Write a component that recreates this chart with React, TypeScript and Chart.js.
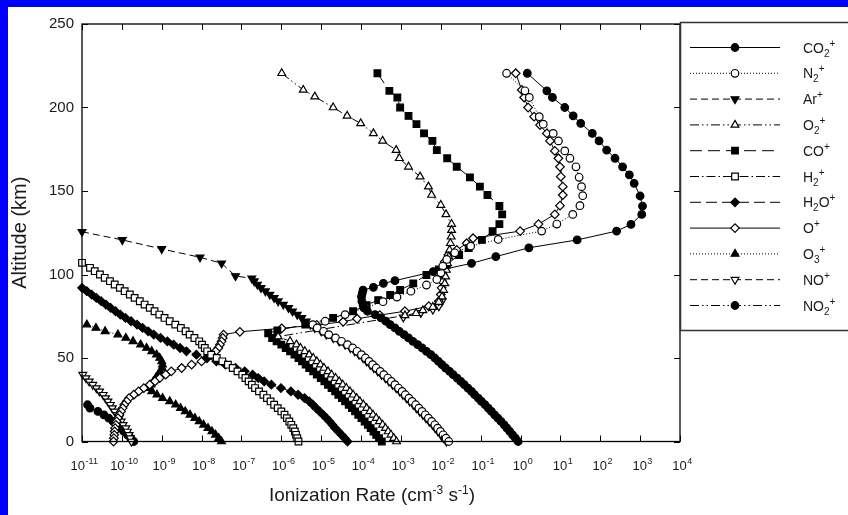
import React, { useEffect, useRef } from "react";
import { Chart, registerables } from "chart.js";
import { drawPoint } from "chart.js/helpers";

Chart.register(...registerables);

const FONT = "'Liberation Sans', Arial, Helvetica, sans-serif";

// Each point: [altitude (km), log10 of ionization rate (cm^-3 s^-1)]; null = gap
type Pt = [number, number] | null;

const X_TICK_EXPONENTS = [-11, -10, -9, -8, -7, -6, -5, -4, -3, -2, -1, 0, 1, 2, 3, 4];
const Y_TICKS = [0, 50, 100, 150, 200, 250];
const X_TITLE: [string, boolean][] = [["Ionization Rate (cm", false], ["-3", true], [" s", false], ["-1", true], [")", false]];
const Y_TITLE = "Altitude (km)";
const LABELS = ["CO₂⁺", "N₂⁺", "Ar⁺", "O₂⁺", "CO⁺", "H₂⁺", "H₂O⁺", "O⁺", "O₃⁺", "NO⁺", "NO₂⁺"];

const CO2_PLUS: Pt[] = [
  [220.5, 0.17], [210, 0.66], [206, 0.8], [200, 1.11], [195, 1.32], [190.5, 1.51], [184.5, 1.8], [180, 1.97],
  [174.5, 2.16], [169.6, 2.37], [164.5, 2.56], [159.6, 2.73], [154.6, 2.85], [147, 3.0], [141, 3.06], [136, 3.04],
  [130, 2.77], [126, 2.41], [120.7, 1.42], [116, 0.21], [110.7, -0.62], [106.7, -1.23], [101.7, -2.19], [96.3, -3.15],
  [94.7, -3.44], [92.3, -3.69], [90.7, -3.95], [88.7, -3.97], [86.7, -3.99], [84, -3.98], [81.7, -3.95], [80, -3.93],
  [78, -3.84], [76, -3.65], [74, -3.5], [72, -3.38], [70, -3.27], [68, -3.15], [66, -3.04], [64, -2.92], [62, -2.81],
  [60, -2.7], [58, -2.58], [56, -2.47], [54, -2.36], [52, -2.25], [50, -2.15], [48, -2.06], [46, -1.97], [44, -1.88],
  [42, -1.78], [40, -1.69], [38, -1.59], [36, -1.5], [34, -1.41], [32, -1.32], [30, -1.23], [28, -1.15], [26, -1.06],
  [24, -0.98], [22, -0.89], [20, -0.81], [18, -0.73], [16, -0.65], [14, -0.57], [12, -0.49], [10, -0.41], [8, -0.34],
  [6, -0.27], [4, -0.2], [2, -0.13], [0, -0.06],
];

const N2_PLUS: Pt[] = [
  [220.5, -0.35], [210, 0.11], [206, 0.22], [194.5, 0.47], [190, 0.57], [184.5, 0.82], [180, 0.95], [174, 1.11],
  [169.6, 1.24], [164.5, 1.39], [158.2, 1.47], [152.6, 1.53], [147.2, 1.56], [141.2, 1.49], [136, 1.31], [130.2, 0.91],
  [126, 0.53], [121, -0.56], [117, -1.25], [113, -1.65], [109, -1.85], [105, -1.95], [101, -2.0], [97, -2.1],
  [93.7, -2.36], [90, -2.75], [86.5, -3.1], [83.7, -3.45], [80, -3.9], [76, -4.4], [72, -4.9],
  [70, -5.21], [68, -5.1], [66, -4.94], [64, -4.81], [62, -4.64], [60, -4.49], [58, -4.34], [56, -4.21], [54, -4.1],
  [52, -3.99], [50, -3.89], [48, -3.8], [46, -3.71], [44, -3.62], [42, -3.52], [40, -3.43], [38, -3.33], [36, -3.24],
  [34, -3.15], [32, -3.06], [30, -2.97], [28, -2.89], [26, -2.8], [24, -2.72], [22, -2.63], [20, -2.55], [18, -2.47],
  [16, -2.39], [14, -2.31], [12, -2.23], [10, -2.15], [8, -2.08], [6, -2.01], [4, -1.94], [2, -1.87], [0, -1.8],
];

const AR_PLUS: Pt[] = [
  [125.6, -11.0], [120.7, -9.99], [115.3, -9.0], [110.3, -8.04], [106.7, -7.5], [99.1, -7.15], [97.7, -6.74],
  [96, -6.68], [94, -6.6], [92, -6.51], [90, -6.4], [88, -6.29], [86, -6.18], [84, -6.08], [82, -5.95], [80, -5.82],
  [78, -5.72], [76, -5.6], [74, -5.49], [72, -5.38], [70, -5.27], [68, -5.16], [66, -5.0], [64, -4.87], [62, -4.7],
  [60, -4.55], [58, -4.4], [56, -4.27], [54, -4.16], [52, -4.05], [50, -3.95], [48, -3.86], [46, -3.77], [44, -3.68],
  [42, -3.58], [40, -3.49], [38, -3.39], [36, -3.3], [34, -3.21], [32, -3.12], [30, -3.03], [28, -2.95], [26, -2.86],
  [24, -2.78], [22, -2.69], [20, -2.61], [18, -2.53], [16, -2.45], [14, -2.37], [12, -2.29], [10, -2.21], [8, -2.14],
  [6, -2.07], [4, -2.0], [2, -1.93], [0, -1.86],
];

const O2_PLUS: Pt[] = [
  [220.5, -5.99], [210.5, -5.45], [206.5, -5.16], [200, -4.7], [195, -4.35], [190.5, -4.01], [184.5, -3.69], [180, -3.46],
  [174.5, -3.12], [169.6, -3.04], [164.5, -2.81], [158.6, -2.52], [152.6, -2.31], [147.6, -2.23], [141.6, -2.0],
  [136, -1.87], [130.2, -1.73], [126.6, -1.73], [122.6, -1.74], [118.7, -1.76], [114.7, -1.78], [110.7, -1.8],
  [106.7, -1.83], [102.7, -1.86], [98.7, -1.88], [94.7, -1.9], [90.7, -1.93], [86.7, -1.97], [83.5, -2.05],
  [80.5, -2.2], [78.5, -2.45], [76.8, -2.62], [75.5, -2.9],
  [62.8, -6.08], [60, -5.78], [58, -5.62], [56, -5.52], [54, -5.41], [52, -5.3], [50, -5.2], [48, -5.11], [46, -5.02],
  [44, -4.93], [42, -4.83], [40, -4.74], [38, -4.64], [36, -4.55], [34, -4.46], [32, -4.37], [30, -4.28], [28, -4.2],
  [26, -4.11], [24, -4.03], [22, -3.94], [20, -3.86], [18, -3.78], [16, -3.7], [14, -3.62], [12, -3.54], [10, -3.46],
  [8, -3.39], [6, -3.32], [4, -3.25], [2, -3.18], [0, -3.11],
];

const CO_PLUS: Pt[] = [
  [220.5, -3.59], [210, -3.29], [206, -3.09], [200, -3.02], [195, -2.81], [190, -2.61], [184.5, -2.42], [180, -2.21],
  [174.5, -2.1], [169.6, -1.84], [164.5, -1.6], [158.2, -1.27], [152.6, -1.02], [147.6, -0.83], [141, -0.53],
  [136, -0.46], [130.2, -0.53], [126, -0.7], [120.7, -0.97], [115.8, -1.3], [111.7, -1.54], [106, -1.85], [103, -2.05],
  [99.7, -2.36], [94.7, -2.69], [90.7, -3.02], [87.7, -3.27], [84.7, -3.57], [81.7, -3.86], [78, -4.2], [74, -4.7],
  [70, -5.4], [66.5, -6.1], [64.8, -6.33],
  [62, -6.23], [60, -6.12], [58, -6.0], [56, -5.89], [54, -5.78], [52, -5.67], [50, -5.57], [48, -5.48], [46, -5.39],
  [44, -5.3], [42, -5.2], [40, -5.11], [38, -5.01], [36, -4.92], [34, -4.83], [32, -4.74], [30, -4.65], [28, -4.57],
  [26, -4.48], [24, -4.4], [22, -4.31], [20, -4.23], [18, -4.15], [16, -4.07], [14, -3.99], [12, -3.91], [10, -3.83],
  [8, -3.76], [6, -3.69], [4, -3.62], [2, -3.55], [0, -3.48],
];

const H2_PLUS: Pt[] = [
  [107, -11.0], [104, -10.8], [102, -10.68], [100, -10.55], [98, -10.43], [96, -10.3], [94, -10.18], [92, -10.05],
  [90, -9.93], [88, -9.8], [86, -9.68], [84, -9.55], [82, -9.43], [80, -9.3], [78, -9.18], [76, -9.06], [74, -8.93],
  [72, -8.8], [70, -8.66], [68, -8.52], [66, -8.4], [64, -8.3], [62, -8.18], [60, -8.06], [58, -7.99], [56, -7.92],
  [54, -7.86], [52, -7.76], [50, -7.62], [48, -7.48], [46, -7.34], [44, -7.22], [42, -7.1], [40, -6.98], [38, -6.9],
  [36, -6.82], [34, -6.74], [32, -6.66], [30, -6.56], [28, -6.45], [26, -6.36], [24, -6.27], [22, -6.18], [20, -6.09],
  [18, -6.0], [16, -5.92], [14, -5.86], [12, -5.8], [10, -5.75], [8, -5.7], [6, -5.66], [4, -5.63], [2, -5.6], [0, -5.57],
];

const H2O_PLUS: Pt[] = [
  [92, -11.0], [90, -10.88], [88, -10.76], [86, -10.64], [84, -10.52], [82, -10.4], [80, -10.28], [78, -10.16],
  [76, -10.04], [74, -9.91], [72, -9.77], [70, -9.62], [68, -9.48], [66, -9.34], [64, -9.2], [62, -9.03], [60, -8.86],
  [58, -8.7], [56, -8.54], [54, -8.38], [52, -8.13], [50, -7.88], [48, -7.63], [46, -7.4], [44, -7.15], [42, -6.92],
  [40, -6.72], [38, -6.58], [36, -6.43], [34, -6.25], [32, -6.01], [30, -5.76], [28, -5.58], [26, -5.42], [24, -5.3],
  [22, -5.21], [20, -5.13], [18, -5.04], [16, -4.95], [14, -4.87], [12, -4.79], [10, -4.72], [8, -4.65], [6, -4.57],
  [4, -4.49], [2, -4.41], [0, -4.34],
];

const O_PLUS: Pt[] = [
  [220.5, -0.12], [210.5, 0.03], [206, 0.09], [200, 0.19], [194.5, 0.34], [189.5, 0.49], [184.5, 0.66], [180, 0.74],
  [174, 0.86], [169.6, 0.95], [164.5, 0.99], [158.6, 1.01], [152.6, 1.06], [147.6, 1.06], [141.2, 0.99], [136, 0.86],
  [130.2, 0.45], [126, -0.01], [121.7, -1.19], [118.7, -1.35], [114.7, -1.6], [111.7, -1.81], [107.7, -1.9],
  [104, -1.92], [100, -1.95], [96, -1.97], [92, -1.98], [88, -2.0], [84, -2.05], [81, -2.3], [78, -2.9], [75.7, -3.53],
  [73.5, -4.1], [71.7, -4.45], [69.8, -5.11], [67.8, -5.99], [65.7, -7.04],
  [64, -7.45], [62, -7.47], [60, -7.5], [58, -7.54], [56, -7.58], [54, -7.65], [52, -7.74], [50, -7.86], [48, -8.0],
  [46, -8.25], [44, -8.5], [42, -8.76], [40, -8.9], [38, -9.05], [36, -9.17], [34, -9.3], [32, -9.45], [30, -9.58],
  [28, -9.7], [26, -9.82], [24, -9.88], [22, -9.94], [20, -9.98], [18, -10.02], [16, -10.06], [14, -10.1], [12, -10.13],
  [10, -10.15], [8, -10.17], [6, -10.18], [4, -10.19], [2, -10.2], [0, -10.21],
];

const O3_PLUS: Pt[] = [
  [70, -10.88], [68, -10.65], [66, -10.42], [64, -10.1], [62, -9.9], [60, -9.72], [58, -9.53], [56, -9.38], [54, -9.25],
  [52, -9.13], [50, -9.05], [48, -9.0], [46, -8.98], [44, -8.99], [42, -9.04], [40, -9.09], [38, -9.15], [36, -9.21],
  [34, -9.27], [32, -9.29], [30, -9.25], [28, -9.12], [26, -8.98], [24, -8.8], [22, -8.65], [20, -8.53], [18, -8.41],
  [16, -8.29], [14, -8.17], [12, -8.06], [10, -7.95], [8, -7.84], [6, -7.74], [4, -7.65], [2, -7.57], [0, -7.5],
];

const NO_PLUS: Pt[] = [
  [84, -1.97], [81, -2.05], [79, -2.2], [77, -2.5], [74.4, -2.94],
  null,
  [40, -10.98], [38, -10.9], [36, -10.82], [34, -10.73], [32, -10.64], [30, -10.56], [28, -10.47], [26, -10.41],
  [24, -10.35], [22, -10.29], [20, -10.24], [18, -10.18], [16, -10.12], [14, -10.07], [12, -10.02], [10, -9.97],
  [8, -9.9], [6, -9.86], [4, -9.82], [2, -9.79], [0, -9.76],
];

const NO2_PLUS: Pt[] = [
  [22, -10.86], [20, -10.8], [18, -10.6], [16, -10.45], [14, -10.33], [12, -10.22], [10, -10.13], [8, -10.04],
  [6, -9.95], [4, -9.86], [2, -9.78], [0, -9.7],
];

const SERIES_DATA = [CO2_PLUS, N2_PLUS, AR_PLUS, O2_PLUS, CO_PLUS, H2_PLUS, H2O_PLUS, O_PLUS, O3_PLUS, NO_PLUS, NO2_PLUS];

type Style = { dash: number[]; point: string; filled: boolean; radius: number; rotation: number };
const STYLES: Style[] = [
  { dash: [], point: "circle", filled: true, radius: 3.8, rotation: 0 },
  { dash: [1, 2], point: "circle", filled: false, radius: 3.8, rotation: 0 },
  { dash: [7, 4], point: "triangle", filled: true, radius: 4.5, rotation: 180 },
  { dash: [9, 3, 1.5, 3, 1.5, 3], point: "triangle", filled: false, radius: 4.5, rotation: 0 },
  { dash: [12, 6], point: "rect", filled: true, radius: 4.7, rotation: 0 },
  { dash: [9, 3, 1.5, 3], point: "rect", filled: false, radius: 4.7, rotation: 0 },
  { dash: [11, 5], point: "rectRot", filled: true, radius: 4.3, rotation: 0 },
  { dash: [], point: "rectRot", filled: false, radius: 4.3, rotation: 0 },
  { dash: [1, 2], point: "triangle", filled: true, radius: 4.5, rotation: 0 },
  { dash: [7, 4], point: "triangle", filled: false, radius: 4.5, rotation: 180 },
  { dash: [9, 3, 1.5, 3, 1.5, 3], point: "circle", filled: true, radius: 3.8, rotation: 0 },
];

const SUBS = "₀₁₂₃₄₅₆₇₈₉";
const SUPS: Record<string, string> = { "⁺": "+", "⁻": "-" };

function drawChem(ctx: CanvasRenderingContext2D, text: string, x: number, y: number) {
  let cx = x;
  for (const ch of Array.from(text)) {
    const si = SUBS.indexOf(ch);
    if (si >= 0) {
      ctx.font = `10px ${FONT}`;
      ctx.fillText(String(si), cx, y + 4);
      cx += ctx.measureText(String(si)).width;
    } else if (SUPS[ch]) {
      ctx.font = `10px ${FONT}`;
      ctx.fillText(SUPS[ch], cx, y - 6);
      cx += ctx.measureText(SUPS[ch]).width;
    } else {
      ctx.font = `14px ${FONT}`;
      ctx.fillText(ch, cx, y);
      cx += ctx.measureText(ch).width;
    }
  }
}

const decorPlugin = {
  id: "decor",
  afterDraw(chart: any) {
    const { ctx, chartArea } = chart;
    const { left, right, top, bottom } = chartArea;
    const xs = chart.scales.x;
    const ys = chart.scales.y;
    ctx.save();
    ctx.setLineDash([]);
    ctx.strokeStyle = "#000";
    ctx.lineWidth = 1.3;
    ctx.strokeRect(left, top, right - left, bottom - top);
    ctx.lineWidth = 1;
    ctx.beginPath();
    for (const e of X_TICK_EXPONENTS) {
      const px = Math.round(xs.getPixelForValue(10 ** e)) + 0.5;
      ctx.moveTo(px, bottom);
      ctx.lineTo(px, bottom - 6);
      ctx.moveTo(px, top);
      ctx.lineTo(px, top + 6);
    }
    for (const v of Y_TICKS) {
      const py = Math.round(ys.getPixelForValue(v)) + 0.5;
      ctx.moveTo(left, py);
      ctx.lineTo(left + 6, py);
      ctx.moveTo(right, py);
      ctx.lineTo(right - 6, py);
    }
    ctx.stroke();

    // x tick labels with superscript exponents
    ctx.fillStyle = "#1a1a1a";
    ctx.textAlign = "left";
    ctx.textBaseline = "alphabetic";
    for (const e of X_TICK_EXPONENTS) {
      const px = xs.getPixelForValue(10 ** e);
      ctx.font = `13px ${FONT}`;
      const w1 = ctx.measureText("10").width;
      const sup = String(e);
      ctx.font = `9px ${FONT}`;
      const w2 = ctx.measureText(sup).width;
      const x0 = px - (w1 + w2) / 2 + 2;
      ctx.font = `13px ${FONT}`;
      ctx.fillText("10", x0, 463);
      ctx.font = `9px ${FONT}`;
      ctx.fillText(sup, x0 + w1 + 0.5, 457);
    }

    // x title
    let total = 0;
    for (const [t, s] of X_TITLE) {
      ctx.font = s ? `12px ${FONT}` : `19px ${FONT}`;
      total += ctx.measureText(t).width;
    }
    let tx = 364 - total / 2;
    for (const [t, s] of X_TITLE) {
      ctx.font = s ? `12px ${FONT}` : `19px ${FONT}`;
      ctx.fillText(t, tx, s ? 487 : 494);
      tx += ctx.measureText(t).width;
    }

    // legend
    ctx.strokeStyle = "#333";
    ctx.lineWidth = 1.5;
    ctx.strokeRect(672.5, 15.5, 200, 308);
    chart.data.datasets.forEach((ds: any, i: number) => {
      const st = STYLES[i];
      const yy = 40.5 + i * 25.8;
      ctx.strokeStyle = "#000";
      ctx.lineWidth = 1;
      ctx.setLineDash(st.dash);
      ctx.beginPath();
      ctx.moveTo(682, yy);
      ctx.lineTo(772, yy);
      ctx.stroke();
      ctx.setLineDash([]);
      ctx.fillStyle = st.filled ? "#000" : "#fff";
      ctx.lineWidth = 1.2;
      drawPoint(ctx, { pointStyle: st.point as any, rotation: st.rotation, radius: st.radius, borderWidth: 1.2 }, 727, yy);
      ctx.fillStyle = "#1a1a1a";
      drawChem(ctx, ds.label, 795, yy + 5);
    });
    ctx.restore();
  },
};

export default function App() {
  const ref = useRef<HTMLCanvasElement>(null);
  useEffect(() => {
    Chart.defaults.font.family = FONT;
    const datasets = LABELS.map((label, i) => {
      const st = STYLES[i];
      return {
        label,
        data: SERIES_DATA[i].map((p) => (p ? { x: 10 ** p[1], y: p[0] } : { x: null, y: null })),
        showLine: true,
        borderColor: "#000",
        borderWidth: 1,
        borderDash: st.dash,
        pointStyle: st.point,
        pointRotation: st.rotation,
        pointRadius: st.radius,
        pointBackgroundColor: st.filled ? "#000" : "#fff",
        pointBorderColor: "#000",
        pointBorderWidth: 1.2,
        spanGaps: false,
        clip: 6,
      };
    });
    const chart = new Chart(ref.current as HTMLCanvasElement, {
      type: "scatter",
      data: { datasets: datasets as any },
      options: {
        responsive: false,
        animation: false,
        events: [],
        layout: { padding: { left: 0, top: 17, right: 168, bottom: 73.5 } },
        plugins: { legend: { display: false }, tooltip: { enabled: false } },
        scales: {
          x: {
            type: "logarithmic",
            min: 1e-11,
            max: 1e4,
            display: false,
          },
          y: {
            type: "linear",
            min: 0,
            max: 250,
            afterFit: (s: any) => {
              s.width = 74;
            },
            grid: { display: false, drawTicks: false },
            border: { display: false },
            ticks: { stepSize: 50, padding: 8, color: "#1a1a1a", font: { size: 15 } },
            title: { display: true, text: Y_TITLE, color: "#1a1a1a", font: { size: 20 }, padding: { top: 0, bottom: 0 } },
          },
        },
      },
      plugins: [decorPlugin],
    } as any);
    return () => chart.destroy();
  }, []);
  return (
    <div style={{ position: "fixed", left: 0, top: 0, width: 848, height: 515, background: "#0000ff", overflow: "hidden" }}>
      <div style={{ position: "absolute", left: 8, top: 7, width: 840, height: 508, background: "#fff" }}>
        <canvas ref={ref} width={840} height={508} style={{ display: "block", width: 840, height: 508 }} />
      </div>
    </div>
  );
}
